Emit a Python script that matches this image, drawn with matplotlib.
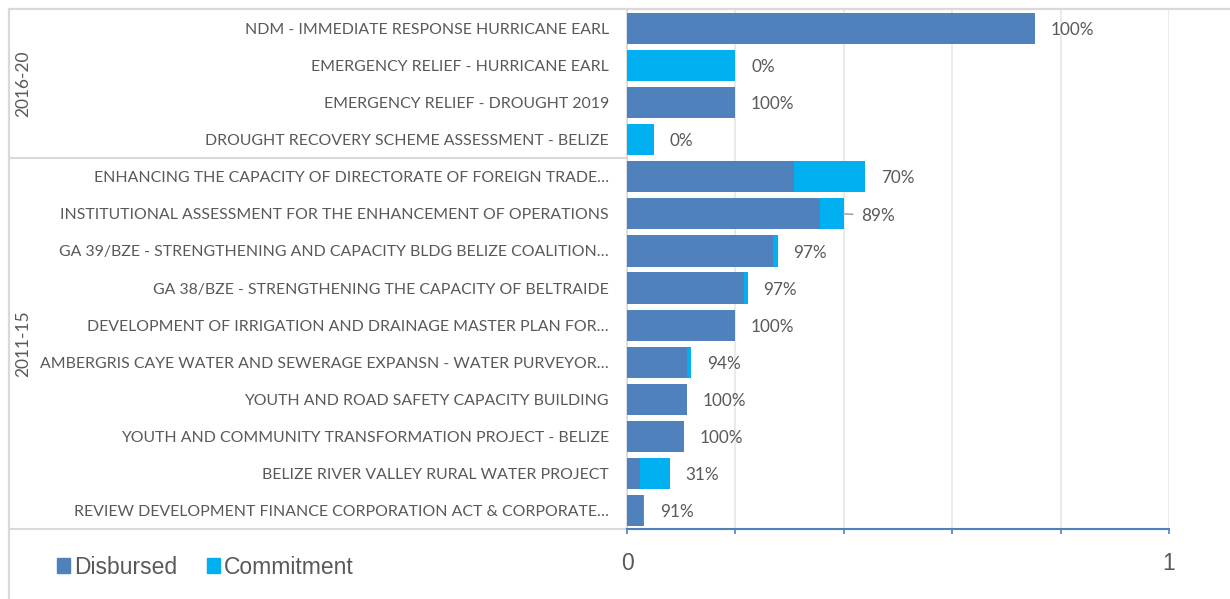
import matplotlib.pyplot as plt
from matplotlib.lines import Line2D
from matplotlib.patches import Patch
from matplotlib.transforms import blended_transform_factory
import numpy as np

# project names, top to bottom
projects = [
    "NDM - IMMEDIATE RESPONSE HURRICANE EARL",
    "EMERGENCY RELIEF - HURRICANE EARL",
    "EMERGENCY RELIEF - DROUGHT 2019",
    "DROUGHT RECOVERY SCHEME ASSESSMENT - BELIZE",
    "ENHANCING THE CAPACITY OF DIRECTORATE OF FOREIGN TRADE\u2026",
    "INSTITUTIONAL ASSESSMENT FOR THE ENHANCEMENT OF OPERATIONS",
    "GA 39/BZE - STRENGTHENING AND CAPACITY BLDG BELIZE COALITION\u2026",
    "GA 38/BZE - STRENGTHENING THE CAPACITY OF BELTRAIDE",
    "DEVELOPMENT OF IRRIGATION AND DRAINAGE MASTER PLAN FOR\u2026",
    "AMBERGRIS CAYE WATER AND SEWERAGE EXPANSN - WATER PURVEYOR\u2026",
    "YOUTH AND ROAD SAFETY CAPACITY BUILDING",
    "YOUTH AND COMMUNITY TRANSFORMATION PROJECT - BELIZE",
    "BELIZE RIVER VALLEY RURAL WATER PROJECT",
    "REVIEW DEVELOPMENT FINANCE CORPORATION ACT & CORPORATE\u2026",
]

# funding periods: (label, first row, last row)
periods = [("2016-20", 0, 3), ("2011-15", 4, 13)]

# total approved amount (scaled) and share of it already disbursed
totals = [0.752, 0.200, 0.200, 0.049, 0.440, 0.400, 0.278,
          0.223, 0.200, 0.118, 0.110, 0.105, 0.0795, 0.032]
disbursed_pct = [1.00, 0.00, 1.00, 0.00, 0.70, 0.89, 0.97,
                 0.97, 1.00, 0.94, 1.00, 1.00, 0.31, 0.91]

x_ticks = [0, 0.2, 0.4, 0.6, 0.8, 1.0]
x_ticklabels = ["0", "", "", "", "", "1"]

c_disb = "#4F81BD"
c_comm = "#00B0F0"
c_text = "#595959"
c_line = "#D9D9D9"
label_font = ["Lato", "DejaVu Sans"]
arial = ["Liberation Sans", "DejaVu Sans"]

totals = np.array(totals)
pct = np.array(disbursed_pct)
disb = totals * pct
comm = totals - disb
rows = np.arange(len(projects))

W, H = 1230, 599
fig = plt.figure(figsize=(W / 100, H / 100), dpi=100)
ax = fig.add_axes([627 / W, (H - 529) / H, (1169 - 627) / W, (529 - 10) / H])

ax.barh(rows, disb, height=0.84, color=c_disb, zorder=3)
ax.barh(rows, comm, left=disb, height=0.84, color=c_comm, zorder=3)

ax.set_xlim(0, 1)
ax.set_ylim(len(projects) - 0.5, -0.5)

ax.set_yticks(rows)
ax.set_yticklabels(projects, fontsize=11.4, color=c_text, family=label_font)
ax.tick_params(axis="y", length=0, pad=13)

ax.set_xticks(x_ticks)
ax.set_xticklabels(x_ticklabels, fontsize=16.5, color=c_text, family=arial)
ax.tick_params(axis="x", direction="out", length=3.5, width=1.2,
               color=c_disb, pad=13)
ax.grid(axis="x", color="#E6E6E6", linewidth=1.2, zorder=0)

for side in ["top", "right"]:
    ax.spines[side].set_visible(False)
ax.spines["left"].set_color(c_line)
ax.spines["left"].set_linewidth(1.2)
ax.spines["bottom"].set_color(c_disb)
ax.spines["bottom"].set_linewidth(1.5)
ax.spines["bottom"].set_zorder(4)

# percentage labels at the end of each bar
for i in rows:
    lbl = f"{pct[i] * 100:.0f}%"
    if i == 5:
        # this one carries a short leader line
        ax.annotate(lbl, xy=(totals[i], i), xytext=(12.5, -1.2),
                    textcoords="offset points", va="center", ha="left",
                    fontsize=12.3, color=c_text, family=label_font,
                    arrowprops=dict(arrowstyle="-", color="#A6A6A6",
                                    lw=1.2, shrinkA=4, shrinkB=0))
    else:
        ax.annotate(lbl, xy=(totals[i], i), xytext=(11.3, -1.2),
                    textcoords="offset points", va="center", ha="left",
                    fontsize=12.3, color=c_text, family=label_font)

# period grouping on the category axis
trans = blended_transform_factory(ax.transAxes, ax.transData)
x_left = (10 - 627) / (1169 - 627)
x_grp = (23 - 627) / (1169 - 627)
for name, first, last in periods:
    ax.text(x_grp, (first + last) / 2, name, rotation=90, transform=trans,
            ha="center", va="center", fontsize=12.5, color=c_text,
            family=label_font)
    ax.plot([x_left, 0], [last + 0.5, last + 0.5], transform=trans,
            color=c_line, linewidth=1.5, clip_on=False)

# chart frame (top and left edges)
fig.add_artist(Line2D([9 / W, 1], [1 - 9 / H, 1 - 9 / H],
                      color=c_line, linewidth=1.6))
fig.add_artist(Line2D([9 / W, 9 / W], [0, 1 - 9 / H],
                      color=c_line, linewidth=1.6))

handles = [Patch(color=c_disb, label="Disbursed"),
           Patch(color=c_comm, label="Commitment")]
fig.legend(handles=handles, loc="center left",
           bbox_to_anchor=(36 / W, 1 - 567 / H), ncol=2, frameon=False,
           handlelength=0.6, handleheight=0.6, handletextpad=0.15,
           columnspacing=1.3, prop={"family": arial, "size": 16.5},
           labelcolor=c_text)

fig.savefig("out.png", dpi=100, facecolor="white")
